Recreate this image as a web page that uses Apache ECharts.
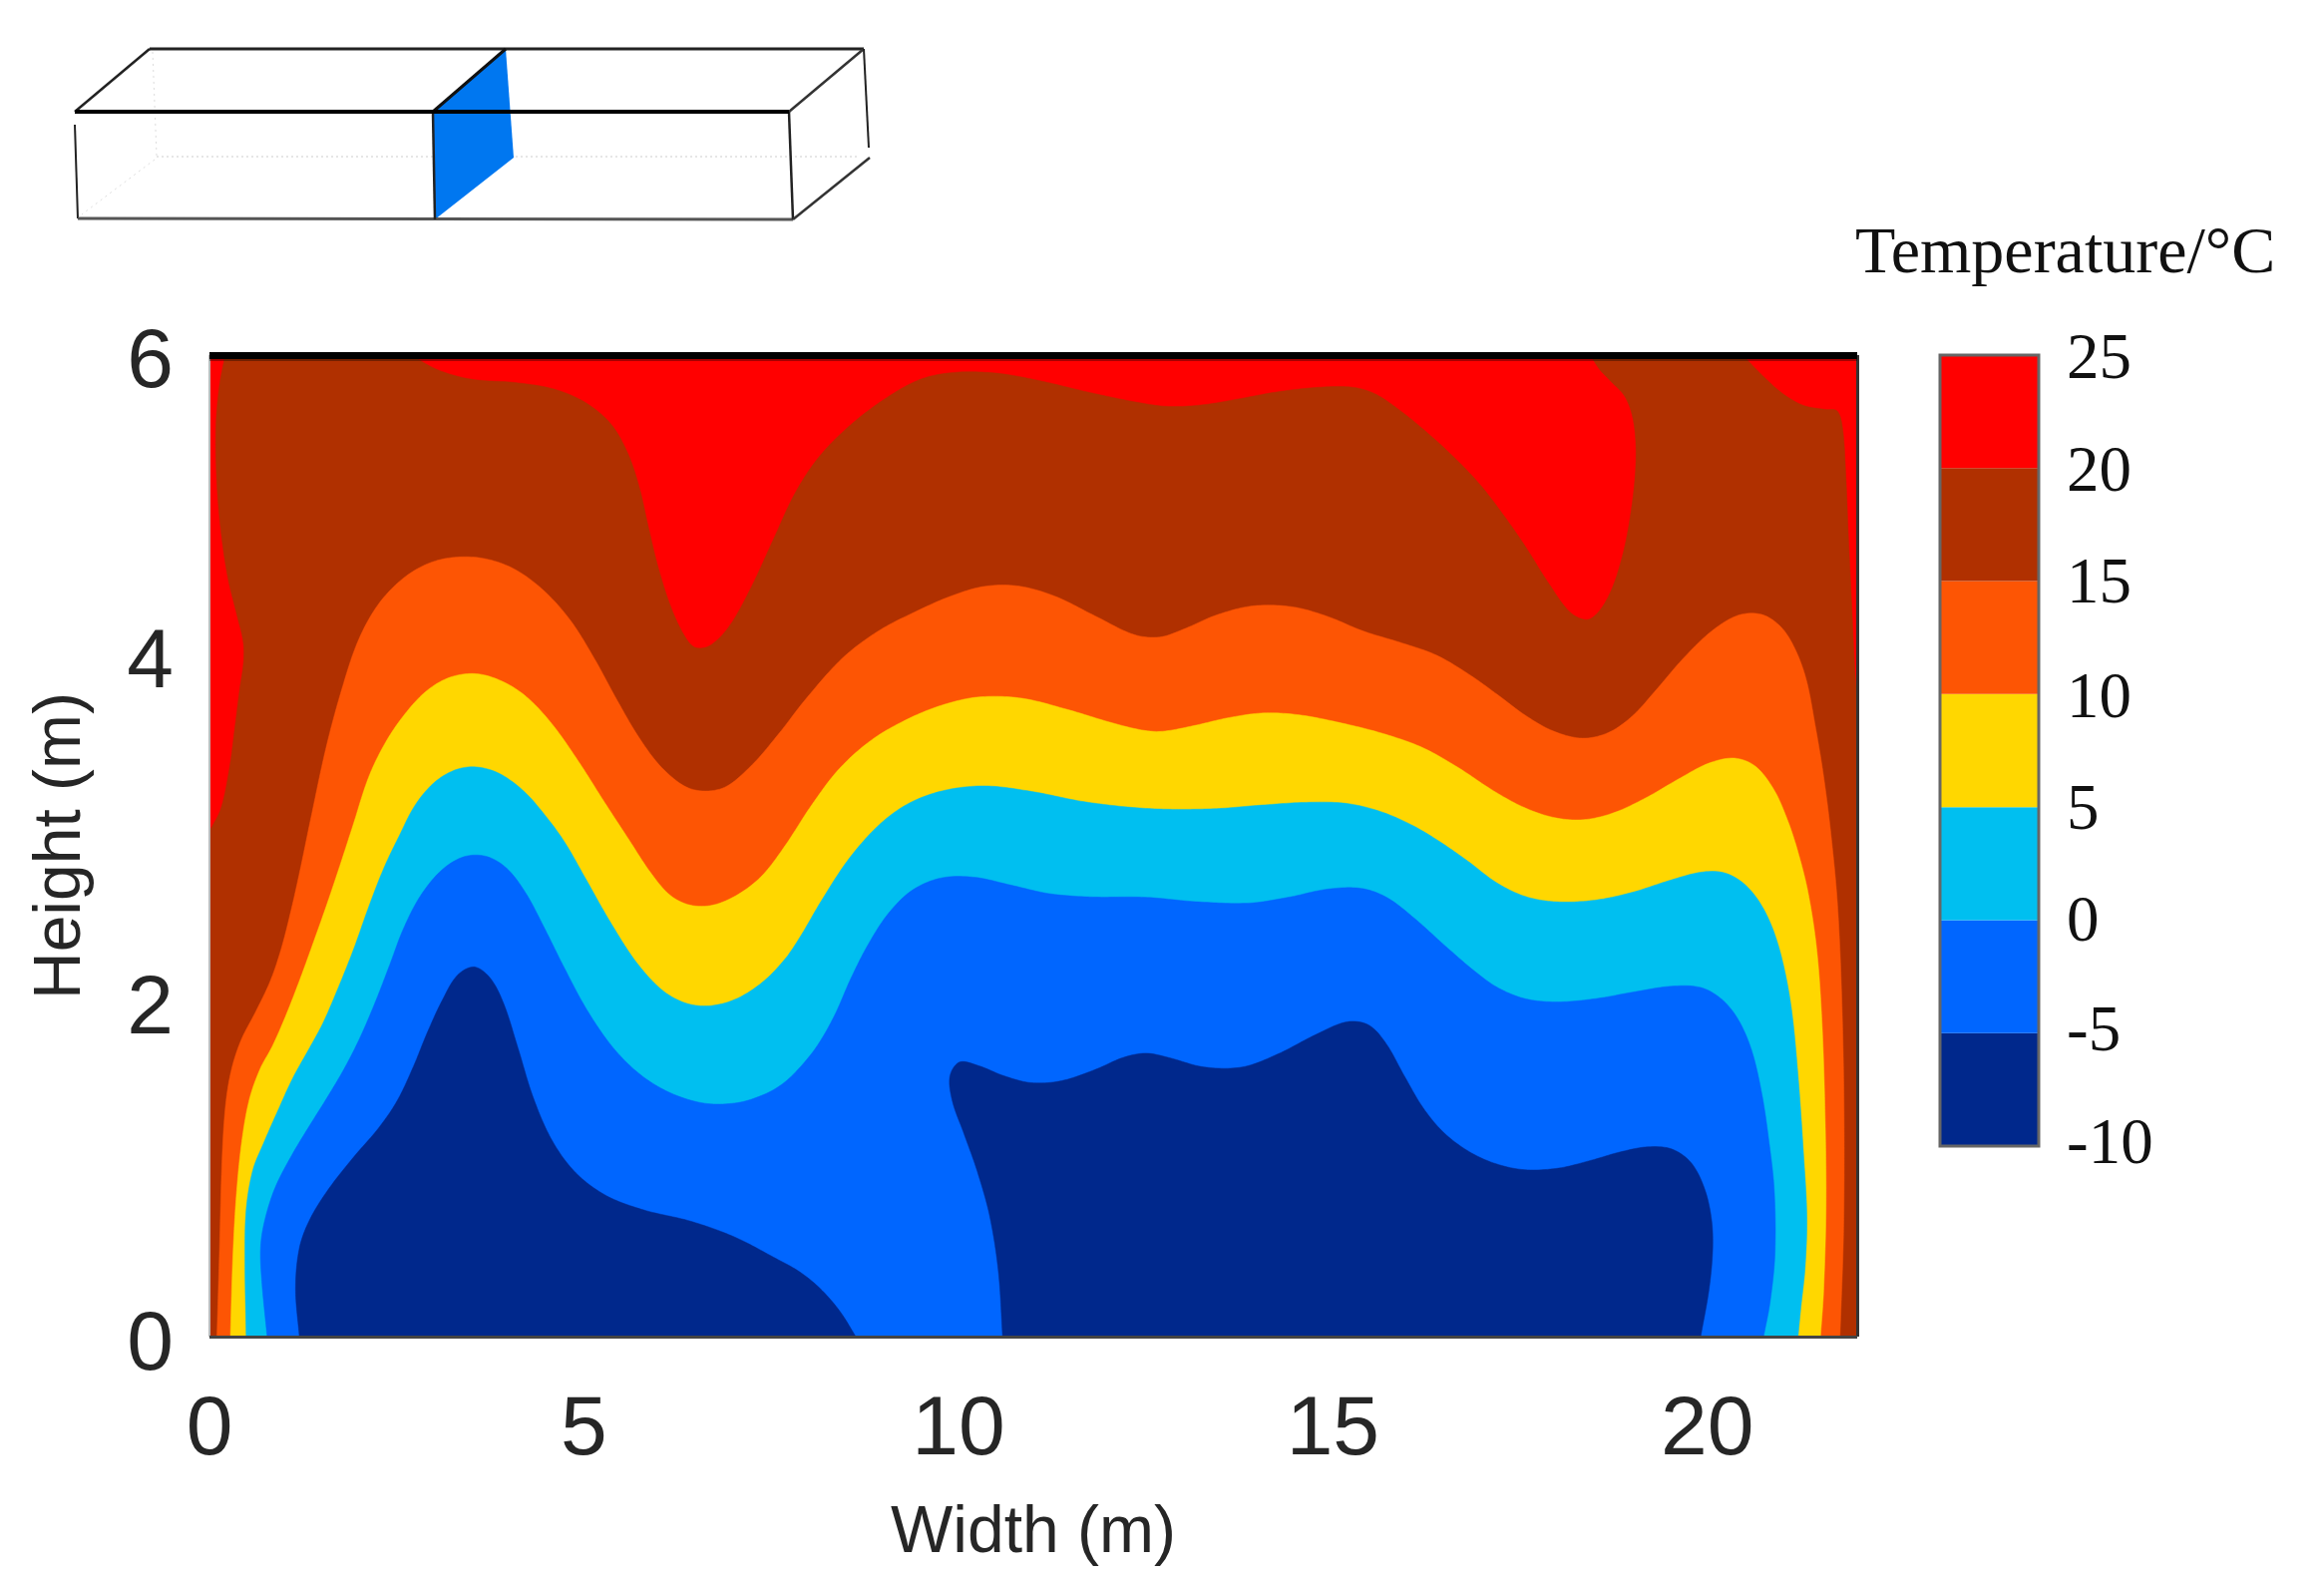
<!DOCTYPE html>
<html>
<head>
<meta charset="utf-8">
<script src="https://cdn.jsdelivr.net/npm/echarts@6/dist/echarts.min.js"></script>
<style>html,body{margin:0;padding:0;background:#fff}#c{width:2330px;height:1582px}</style>
</head>
<body>
<div id="c"></div>
<script>
// Contour lines: [width m, height m]
const c20Left = [[0,3.09],[0.16,3.19],[0.27,3.46],[0.35,3.76],[0.40,3.96],[0.47,4.15],[0.47,4.23],[0.37,4.41],[0.24,4.62],[0.16,4.88],[0.09,5.19],[0.07,5.59],[0.13,5.83],[0.21,6]];
const c20Mid = [[2.69,6],[3.05,5.90],[3.45,5.84],[4.12,5.84],[4.62,5.80],[5.03,5.72],[5.39,5.59],[5.59,5.41],[5.75,5.20],[5.85,4.96],[5.98,4.71],[6.15,4.45],[6.35,4.27],[6.46,4.20],[6.66,4.20],[6.93,4.31],[7.23,4.57],[7.52,4.86],[7.82,5.18],[8.10,5.37],[8.52,5.57],[9.02,5.74],[9.50,5.87],[9.89,5.90],[10.52,5.90],[11.05,5.85],[11.72,5.77],[12.52,5.70],[12.74,5.68],[13.28,5.69],[13.72,5.73],[14.25,5.78],[14.88,5.81],[15.28,5.81],[15.54,5.78],[15.85,5.68],[16.21,5.55],[16.61,5.38],[16.95,5.23],[17.31,5.00],[17.54,4.86],[17.89,4.59],[18.20,4.39],[18.42,4.35],[18.68,4.49],[18.88,4.76],[19.00,5.08],[19.07,5.38],[19.02,5.61],[18.94,5.75],[18.68,5.85],[18.55,5.91],[18.44,6]];
const c20Right = [[20.47,6],[20.74,5.87],[21.00,5.76],[21.27,5.68],[21.61,5.66],[21.75,5.68],[21.81,5.59],[21.85,5.29],[21.88,4.88],[21.93,4.47],[21.97,4.01],[22,3.90]];
const c15 = [[0.10,0],[0.13,0.41],[0.17,1.22],[0.21,1.42],[0.29,1.65],[0.40,1.81],[0.63,1.99],[0.83,2.18],[0.96,2.36],[1.11,2.64],[1.21,2.85],[1.32,3.09],[1.57,3.66],[1.77,3.96],[1.97,4.27],[2.22,4.47],[2.53,4.63],[2.89,4.73],[3.20,4.77],[3.66,4.77],[4.06,4.71],[4.47,4.57],[4.83,4.39],[5.14,4.15],[5.45,3.88],[5.75,3.64],[6.05,3.46],[6.41,3.32],[6.87,3.32],[7.22,3.48],[7.59,3.67],[7.95,3.90],[8.48,4.18],[8.92,4.32],[9.46,4.44],[9.89,4.53],[10.35,4.60],[10.79,4.60],[11.28,4.54],[11.81,4.41],[12.40,4.26],[12.69,4.27],[12.96,4.31],[13.45,4.42],[13.89,4.48],[14.48,4.47],[14.88,4.42],[15.41,4.30],[15.94,4.24],[16.38,4.18],[16.82,4.05],[17.25,3.91],[17.54,3.80],[17.94,3.69],[18.34,3.64],[18.68,3.68],[19.00,3.78],[19.31,3.95],[19.67,4.15],[20.07,4.33],[20.42,4.43],[20.74,4.43],[21.00,4.35],[21.17,4.21],[21.33,4.05],[21.44,3.72],[21.55,3.46],[21.64,3.11],[21.75,2.68],[21.80,2.03],[21.83,1.42],[21.83,0.61],[21.77,0]];
const c10 = [[0.28,0],[0.31,0.51],[0.35,0.85],[0.43,1.22],[0.52,1.46],[0.68,1.66],[0.83,1.75],[1.01,1.95],[1.21,2.18],[1.41,2.44],[1.57,2.64],[1.74,2.88],[1.90,3.09],[2.13,3.46],[2.33,3.62],[2.58,3.80],[2.89,3.96],[3.20,4.04],[3.56,4.07],[3.92,4.01],[4.22,3.93],[4.57,3.76],[4.93,3.52],[5.29,3.25],[5.59,3.05],[5.90,2.82],[6.15,2.68],[6.41,2.63],[6.71,2.62],[7.07,2.70],[7.38,2.80],[7.68,2.99],[8.03,3.25],[8.39,3.48],[8.83,3.66],[9.36,3.79],[9.81,3.87],[10.25,3.92],[10.83,3.92],[11.49,3.83],[12.03,3.75],[12.52,3.70],[12.65,3.69],[13.14,3.73],[13.62,3.79],[14.08,3.82],[14.52,3.81],[15.14,3.75],[15.67,3.69],[16.21,3.61],[16.65,3.49],[17.18,3.32],[17.54,3.23],[17.98,3.16],[18.34,3.15],[18.74,3.19],[19.18,3.29],[19.62,3.41],[20.02,3.52],[20.38,3.55],[20.64,3.51],[20.91,3.35],[21.08,3.15],[21.19,3.00],[21.35,2.74],[21.47,2.38],[21.53,1.99],[21.57,1.42],[21.60,0.81],[21.55,0.20],[21.51,0]];
const c5 = [[0.49,0],[0.47,0.51],[0.47,0.77],[0.57,1.05],[0.71,1.16],[0.91,1.38],[1.11,1.59],[1.32,1.75],[1.52,1.91],[1.66,2.07],[1.93,2.36],[2.13,2.64],[2.33,2.88],[2.53,3.05],[2.74,3.27],[3.00,3.40],[3.30,3.48],[3.56,3.49],[3.86,3.46],[4.22,3.34],[4.47,3.19],[4.73,3.05],[5.03,2.79],[5.34,2.54],[5.70,2.27],[6.05,2.10],[6.35,2.03],[6.66,2.01],[7.02,2.05],[7.38,2.15],[7.72,2.32],[7.86,2.42],[8.16,2.66],[8.52,2.93],[8.96,3.15],[9.32,3.27],[9.81,3.35],[10.35,3.38],[10.96,3.34],[11.68,3.26],[12.52,3.22],[13.45,3.22],[13.98,3.25],[14.69,3.27],[15.18,3.27],[15.62,3.22],[16.07,3.13],[16.38,3.04],[16.82,2.91],[17.18,2.76],[17.58,2.68],[17.95,2.65],[18.51,2.66],[19.00,2.71],[19.48,2.79],[19.94,2.85],[20.20,2.85],[20.47,2.79],[20.68,2.68],[20.87,2.52],[21.01,2.30],[21.13,2.03],[21.21,1.63],[21.28,1.12],[21.35,0.71],[21.31,0.41],[21.24,0.16],[21.21,0]];
const c0 = [[0.77,0],[0.68,0.41],[0.67,0.55],[0.73,0.71],[0.85,0.91],[1.11,1.12],[1.32,1.28],[1.60,1.48],[1.82,1.65],[2.02,1.83],[2.22,2.05],[2.41,2.27],[2.58,2.50],[2.80,2.70],[3.10,2.87],[3.40,2.95],[3.70,2.95],[3.97,2.88],[4.22,2.73],[4.47,2.50],[4.73,2.26],[5.03,1.99],[5.39,1.75],[5.75,1.59],[6.15,1.48],[6.62,1.41],[7.07,1.42],[7.43,1.48],[7.66,1.54],[7.86,1.63],[8.12,1.77],[8.35,1.95],[8.56,2.20],[8.79,2.40],[9.06,2.60],[9.36,2.74],[9.76,2.82],[10.21,2.82],[10.69,2.76],[11.23,2.70],[11.68,2.68],[12.52,2.70],[13.18,2.65],[13.94,2.64],[14.38,2.68],[14.96,2.75],[15.41,2.75],[15.71,2.70],[16.07,2.57],[16.51,2.38],[16.95,2.21],[17.18,2.13],[17.58,2.05],[17.98,2.04],[18.51,2.06],[19.04,2.11],[19.54,2.15],[19.94,2.15],[20.20,2.07],[20.42,1.95],[20.60,1.77],[20.74,1.48],[20.81,1.22],[20.91,0.93],[20.92,0.47],[20.84,0.20],[20.75,0]];
const cMinus5Left = [[1.20,0],[1.12,0.30],[1.19,0.57],[1.32,0.71],[1.57,0.90],[1.92,1.10],[2.28,1.28],[2.50,1.42],[2.74,1.66],[2.89,1.85],[3.12,2.07],[3.30,2.23],[3.54,2.29],[3.76,2.20],[3.92,2.07],[4.12,1.77],[4.31,1.45],[4.57,1.18],[4.87,0.99],[5.29,0.85],[5.75,0.77],[6.46,0.71],[6.97,0.63],[7.66,0.45],[7.86,0.41],[8.16,0.30],[8.43,0.16],[8.63,0]];
const cMinus5Right = [[10.59,0],[10.55,0.41],[10.43,0.75],[10.25,1.02],[10.08,1.24],[9.89,1.45],[9.85,1.60],[9.99,1.71],[10.25,1.66],[10.61,1.59],[10.96,1.54],[11.36,1.55],[11.85,1.63],[12.21,1.72],[12.52,1.74],[12.74,1.72],[13.28,1.63],[13.81,1.63],[14.25,1.72],[14.78,1.85],[15.22,1.95],[15.49,1.92],[15.71,1.81],[15.94,1.60],[16.21,1.38],[16.47,1.24],[16.82,1.12],[17.18,1.05],[17.54,1.01],[18.02,1.02],[18.47,1.08],[18.82,1.13],[19.22,1.17],[19.54,1.16],[19.80,1.08],[19.98,0.91],[20.07,0.71],[20.08,0.55],[20.04,0.30],[19.91,0]];

const levelBounds = [-10,-5,0,5,10,15,20,25];
const levelColors = ['#00288c','#0066ff','#00bff0','#ffd700','#fd5504','#b03000','#ff0000'];
const xMax = 22, yMax = 6;
const xTickStep = 5, yTickStep = 2;

// Colder-than regions, painted warm to cold over a red (>20) background.
const regions = [
  {color:levelColors[5], corners:[[0,0]], curves:[c20Left,c20Mid,c20Right], end:[[xMax,0]]},
  {color:levelColors[4], corners:[], curves:[c15], end:[]},
  {color:levelColors[3], corners:[], curves:[c10], end:[]},
  {color:levelColors[2], corners:[], curves:[c5], end:[]},
  {color:levelColors[1], corners:[], curves:[c0], end:[]},
  {color:levelColors[0], corners:[], curves:[cMinus5Left], end:[]},
  {color:levelColors[0], corners:[], curves:[cMinus5Right], end:[]}
];

// Rendering only: takes the hand-reading jitter out of a contour before drawing it as a spline.
function relax(px){
  return px.map((p,i)=>{
    if(i===0||i===px.length-1) return p;
    const a=px[i-1], b=px[i+1];
    return [0.2*a[0]+0.6*p[0]+0.2*b[0], 0.2*a[1]+0.6*p[1]+0.2*b[1]];
  });
}
function smoothCurve(raw){
  const px = relax(raw);
  const n = px.length, out = [];
  const t = [0];
  for(let i=1;i<n;i++) t[i] = t[i-1] + Math.max(1e-3, Math.hypot(px[i][0]-px[i-1][0], px[i][1]-px[i-1][1]));
  const tan = px.map((p,i)=>{
    const a = px[Math.max(i-1,0)], b = px[Math.min(i+1,n-1)];
    const d = t[Math.min(i+1,n-1)] - t[Math.max(i-1,0)];
    return [(b[0]-a[0])/d, (b[1]-a[1])/d];
  });
  for(let i=0;i<n-1;i++){
    const h = t[i+1]-t[i];
    const steps = Math.max(2, Math.ceil(h/3));
    for(let s=0;s<steps;s++){
      const u=s/steps,u2=u*u,u3=u2*u;
      const h00=2*u3-3*u2+1,h10=u3-2*u2+u,h01=-2*u3+3*u2,h11=u3-u2;
      out.push([
        h00*px[i][0]+h10*h*tan[i][0]+h01*px[i+1][0]+h11*h*tan[i+1][0],
        h00*px[i][1]+h10*h*tan[i][1]+h01*px[i+1][1]+h11*h*tan[i+1][1]
      ]);
    }
  }
  out.push(px[n-1]);
  return out;
}

const contourSeries = regions.map(r=>({
  type:'custom', coordinateSystem:'cartesian2d', xAxisIndex:0, yAxisIndex:0,
  clip:true, silent:true, animation:false, z:3,
  data:[r.curves[0][0]],
  renderItem:(params,api)=>{
    let pts = r.corners.map(p=>api.coord(p));
    r.curves.forEach(c=>{ pts = pts.concat(smoothCurve(c.map(p=>api.coord(p)))); });
    pts = pts.concat(r.end.map(p=>api.coord(p)));
    return {type:'polygon', shape:{points:pts}, style:{fill:r.color, stroke:r.color, lineWidth:0.5}};
  }
}));

const background = {
  type:'custom', coordinateSystem:'cartesian2d', xAxisIndex:0, yAxisIndex:0,
  clip:true, silent:true, animation:false, z:2, data:[[0,0]],
  renderItem:(params,api)=>{
    const a=api.coord([0,yMax]), b=api.coord([xMax,0]);
    return {type:'rect', shape:{x:a[0],y:a[1],width:b[0]-a[0],height:b[1]-a[1]}, style:{fill:levelColors[6]}};
  }
};

const colorBands = levelColors.map((c,i)=>[levelBounds[i],levelBounds[i+1]]);
const barSeries = {
  type:'custom', coordinateSystem:'cartesian2d', xAxisIndex:2, yAxisIndex:2,
  silent:true, animation:false, z:3, data:colorBands,
  renderItem:(params,api)=>{
    const a=api.coord([0,api.value(1)]), b=api.coord([1,api.value(0)]);
    return {type:'rect', shape:{x:a[0],y:a[1],width:b[0]-a[0],height:b[1]-a[1]}, style:{fill:levelColors[params.dataIndex]}};
  }
};
const barFrame = {
  type:'custom', coordinateSystem:'cartesian2d', xAxisIndex:2, yAxisIndex:2,
  silent:true, animation:false, z:4, data:[[0,0]],
  renderItem:(params,api)=>{
    const a=api.coord([0,25]), b=api.coord([1,-10]);
    return {type:'rect', shape:{x:a[0],y:a[1],width:b[0]-a[0],height:b[1]-a[1]}, style:{fill:'none',stroke:'#666',lineWidth:3}};
  }
};

const sans = '"Liberation Sans"', serif = '"Liberation Serif"';
const tickInk = '#262626';
const tickFont = {fontFamily:sans, fontSize:84, color:tickInk, align:'right'};
const barFont = {fontFamily:serif, fontSize:65, color:'#111', align:'left'};
const barShift = {'25':12,'20':12,'15':9,'10':12,'5':9,'0':6,'-5':0,'-10':0};
const barRich = {};
Object.keys(barShift).forEach((k,i)=>{ barRich['b'+i] = Object.assign({padding:[barShift[k],0,0,0]},barFont); });
const barKeys = Object.keys(barShift);

// Inset: cut-away box with the plane of the section (decoration)
const boxLine = (x1,y1,x2,y2,w,c,dash)=>({type:'line', silent:true, shape:{x1,y1,x2,y2}, style:{stroke:c||'#000',lineWidth:w||2,lineDash:dash||null}});
const inset = [
  boxLine(153,52,157,156,1,'#ddd',[2,4]),
  boxLine(157,157,860,157,2,'#e6e6e6',[2,3]),
  boxLine(155,160,82,215,1,'#ddd',[2,4]),
  {type:'polygon', silent:true, shape:{points:[[434,112],[507,49],[515,158],[436,220]]}, style:{fill:'#0077f0'}},
  boxLine(150,49,866,49,3,'#222'),
  boxLine(75,112,150,49,2.5,'#222'),
  boxLine(791,112,866,49,2.5,'#333'),
  boxLine(434,112,507,49,3,'#111'),
  boxLine(866,49,871,148,2,'#222'),
  boxLine(75,125,78,219,2,'#222'),
  boxLine(78,219,795,220,3,'#555'),
  boxLine(791,112,795,220,2.5,'#222'),
  boxLine(795,220,872,158,2.5,'#333'),
  boxLine(434,112,436,220,2.5,'#222'),
  boxLine(75,112,791,112,4,'#000'),
  {type:'rect', silent:true, shape:{x:210,y:359,width:1652,height:3}, style:{fill:'rgba(0,0,0,0.35)'}, z:50}
];

const option = {
  animation:false,
  backgroundColor:'#fff',
  title:{text:'Temperature/°C', left:1855, top:218, textStyle:{fontFamily:serif,fontSize:66,fontWeight:'normal',color:'#111'}},
  graphic:inset,
  grid:[
    {left:210, top:356, width:1652, height:984},
    {left:1945, top:356, width:99, height:793}
  ],
  xAxis:[
    {type:'value', gridIndex:0, min:0, max:xMax, interval:xTickStep, position:'bottom',
     name:'Width (m)', nameLocation:'middle', nameGap:165,
     nameTextStyle:{fontFamily:sans,fontSize:66,color:tickInk},
     axisLine:{show:true,onZero:false,lineStyle:{color:'#444',width:3,cap:'butt'}}, axisTick:{show:false}, splitLine:{show:false},
     axisLabel:{margin:53,fontFamily:sans,fontSize:84,color:tickInk,showMaxLabel:false}, z:10},
    {type:'value', gridIndex:0, min:0, max:xMax, position:'top',
     axisLine:{show:true,onZero:false,lineStyle:{color:'#000',width:7,cap:'butt'}}, axisTick:{show:false}, splitLine:{show:false}, axisLabel:{show:false}, z:10},
    {type:'value', gridIndex:1, min:0, max:1, show:false}
  ],
  yAxis:[
    {type:'value', gridIndex:0, min:0, max:yMax, interval:yTickStep, position:'left',
     name:'Height (m)', nameLocation:'middle', nameGap:115,
     nameTextStyle:{fontFamily:sans,fontSize:66,color:tickInk},
     axisLine:{show:true,onZero:false,lineStyle:{color:'#bbb',width:2,cap:'butt'}}, axisTick:{show:false}, splitLine:{show:false},
     axisLabel:{margin:36,
       formatter:v=>`{t${v}|${v}}`,
       rich:{
         t0:Object.assign({padding:[19,0,0,0]},tickFont),
         t2:Object.assign({padding:[2,0,0,0]},tickFont),
         t4:Object.assign({padding:[0,0,36,0]},tickFont),
         t6:Object.assign({padding:[17,0,0,0]},tickFont)
       }}, z:10},
    {type:'value', gridIndex:0, min:0, max:yMax, position:'right',
     axisLine:{show:true,onZero:false,lineStyle:{color:'#333',width:3,cap:'butt'}}, axisTick:{show:false}, splitLine:{show:false}, axisLabel:{show:false}, z:10},
    {type:'value', gridIndex:1, min:-10, max:25, interval:5, position:'right',
     axisLine:{show:false}, axisTick:{show:false}, splitLine:{show:false},
     axisLabel:{margin:28, align:'left',
       formatter:v=>`{b${barKeys.indexOf(String(v))}|${v}}`,
       rich:barRich}}
  ],
  series:[background].concat(contourSeries,[barSeries,barFrame])
};
const chart = echarts.init(document.getElementById('c'),null,{renderer:'canvas'});
chart.setOption(option);
</script>
</body>
</html>
